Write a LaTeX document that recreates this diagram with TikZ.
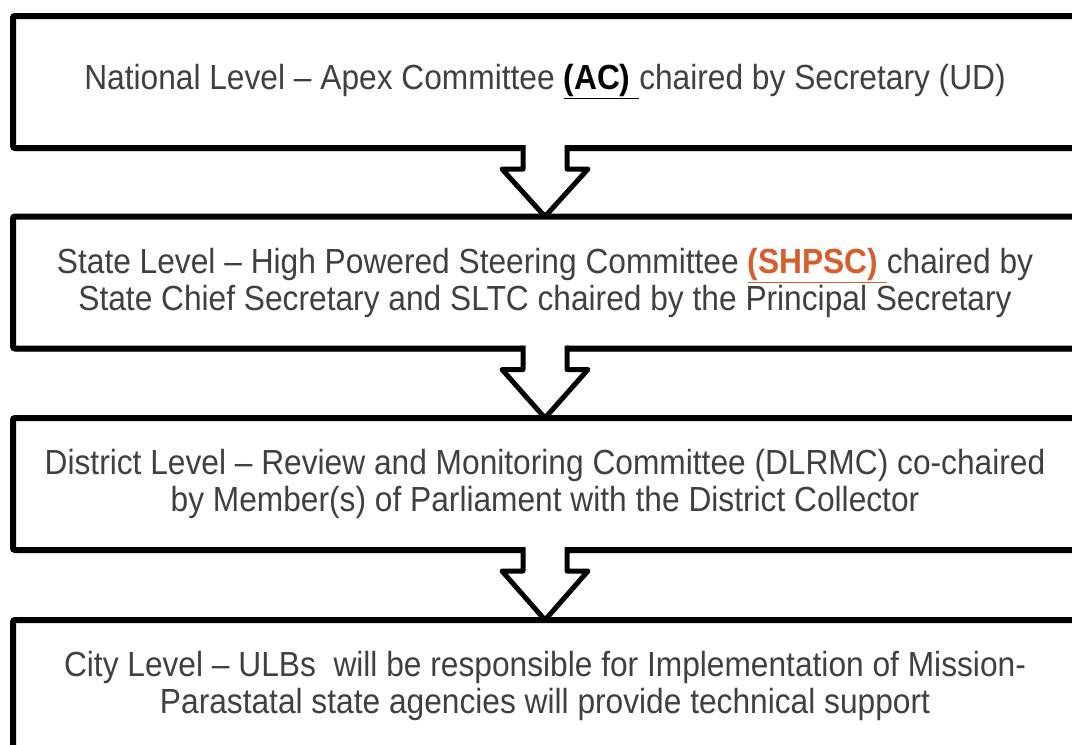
\documentclass[tikz,border=0pt]{standalone}
\usepackage{fontspec}
\setmainfont{Liberation Sans}
\usetikzlibrary{calc,shadows}

\definecolor{txtgray}{RGB}{64,64,64}
\definecolor{shpscorange}{RGB}{214,93,44}

% slightly taller letters, as in the slide
\newcommand{\tallline}[1]{\scalebox{1}[1.1]{#1}}

\tikzset{
  levelbox/.style={draw, line width=6pt, outer sep=0pt, fill=white, rounded corners=2pt,
    minimum width=1064pt, minimum height=132pt, align=center, text=txtgray,
    font=\fontsize{31.7}{37}\selectfont,
    execute at begin node={\setlength{\lineskiplimit}{-20pt}},
    drop shadow={shadow xshift=1pt, shadow yshift=-3pt, opacity=0.25, fill=black}},
  flowline/.style={line width=5pt, line join=round}
}

% hollow block arrow from the bottom of box #1 to the top of box #2
\newcommand{\levelarrow}[2]{%
  \coordinate (T) at (#1.south);
  \coordinate (H) at (#2.north);
  \fill [white] ($(T)+(-22,-4)$) -- ($(T)+(-22,21)$) -- ($(T)+(-43,21)$) -- (H)
    -- ($(T)+(43,21)$) -- ($(T)+(22,21)$) -- ($(T)+(22,-4)$) -- cycle;
  \draw [flowline] ($(T)+(-22,-3)$) -- ($(T)+(-22,21)$) -- ($(T)+(-43,21)$) -- (H)
    -- ($(T)+(43,21)$) -- ($(T)+(22,21)$) -- ($(T)+(22,-3)$);
}

\begin{document}
\begin{tikzpicture}[x=1pt,y=-1pt]
  \useasboundingbox (0,0) rectangle (1072,745);

  \node [levelbox] (national) at (545,82)
    {\tallline{National Level – Apex Committee \textcolor{black}{\underline{\textbf{(AC) }}}chaired by Secretary (UD)}};
  \node [levelbox] (state) at (545,282.5)
    {\tallline{State Level – High Powered Steering Committee \textcolor{shpscorange}{\underline{\textbf{(SHPSC) }}}chaired by}\\
     \tallline{State Chief Secretary and SLTC chaired by the Principal Secretary}};
  \node [levelbox] (district) at (545,484)
    {\tallline{District Level – Review and Monitoring Committee (DLRMC) co-chaired}\\
     \tallline{by Member(s) of Parliament with the District Collector}};
  \node [levelbox] (city) at (545,686)
    {\tallline{City Level – ULBs\ \ will be responsible for Implementation of Mission-}\\
     \tallline{Parastatal state agencies will provide technical support}};

  \levelarrow{national}{state}
  \levelarrow{state}{district}
  \levelarrow{district}{city}
\end{tikzpicture}
\end{document}
